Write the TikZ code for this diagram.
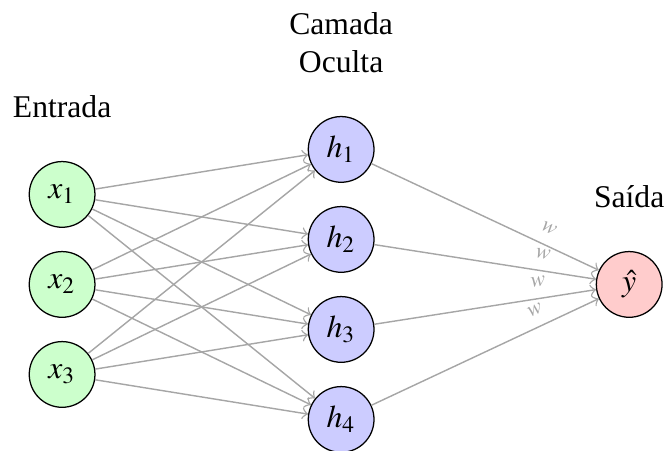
\documentclass[tikz,border=0pt]{standalone}
\usepackage{mathptmx}
\usepackage[no-math]{fontspec}
\setmainfont{Liberation Serif}
\usepackage{tikz}
\usetikzlibrary{positioning}

\begin{document}
\begin{tikzpicture}[
    >=to,
    node distance=0.35cm,
    neuron/.style={circle, draw, minimum size=0.73cm, inner sep=0pt},
    inp/.style={neuron, fill=green!20},
    hid/.style={neuron, fill=blue!20},
    outp/.style={neuron, fill=red!20},
    conn/.style={->, gray!70, line width=0.45pt},
    wlabel/.style={font=\scriptsize, text=gray!70, pos=0.75, above, sloped},
    title/.style={align=center},
]
\useasboundingbox (-0.69,3.16) rectangle (6.72,-1.84);

% Input layer
\foreach \i/\y in {1/1, 2/0, 3/-1}
    \node[inp] (x\i) at (0,\y) {$x_{\i}$};

% Hidden layer
\foreach \j/\y in {1/1.5, 2/0.5, 3/-0.5, 4/-1.5}
    \node[hid] (h\j) at (3.1,\y) {$h_{\j}$};

% Output
\node[outp] (yhat) at (6.3,0) {$\hat{y}$};

% Layer titles
\node[title, above=of x1] (tin) {Entrada};
\node[title, above=of h1] (thid) {Camada\\Oculta};
\node[title, above=of yhat] (tout) {Saída};

% Edges
\foreach \i in {1,2,3}
    \foreach \j in {1,...,4}
        \draw[conn] (x\i) -- (h\j);
\foreach \j in {1,...,4}
    \draw[conn] (h\j) -- node[wlabel] {$w$} (yhat);

\end{tikzpicture}
\end{document}
